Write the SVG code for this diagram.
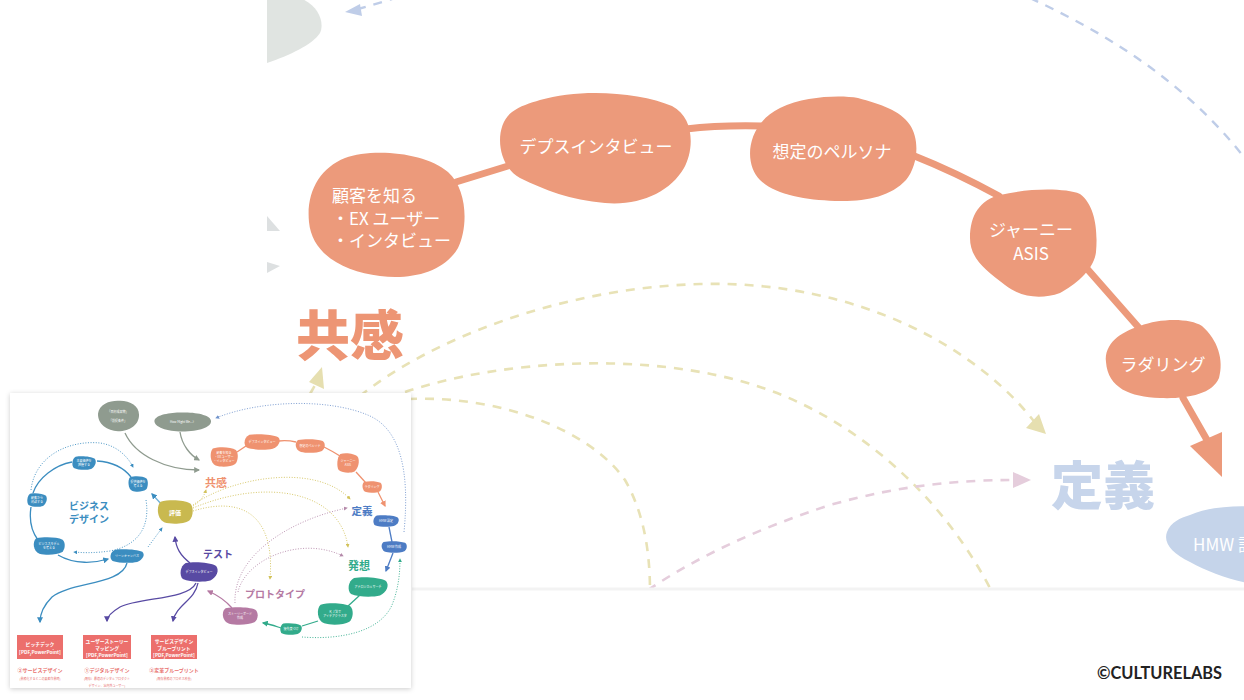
<svg xmlns="http://www.w3.org/2000/svg" width="1244" height="700" viewBox="0 0 1244 700">
<defs>
<style>
.jp{font-family:"Noto Sans CJK JP","Noto Sans",sans-serif}
.nt{font-family:"Noto Sans CJK JP","Noto Sans",sans-serif;fill:#fff;font-size:17px;dominant-baseline:central}
.big{font-family:"Noto Sans CJK JP","Noto Sans",sans-serif;font-weight:900;dominant-baseline:central}
.sal{fill:#ec9a7b}
.sline{fill:none;stroke:#ec9a7b;stroke-width:7;stroke-linecap:round}
.ydash{fill:none;stroke:#e8e2b6;stroke-width:2.6;stroke-dasharray:9 8}
.pdash{fill:none;stroke:#e5cddc;stroke-width:2.6;stroke-dasharray:9 8}
.bdash{fill:none;stroke:#bfcde8;stroke-width:2.4;stroke-dasharray:9 8}
.mt{font-family:"Noto Sans CJK JP","Noto Sans",sans-serif;fill:#fff;font-size:3px;text-anchor:middle;dominant-baseline:central}
.mh{font-family:"Noto Sans CJK JP","Noto Sans",sans-serif;font-weight:700;text-anchor:middle;dominant-baseline:central}
.bx{font-family:"Noto Sans CJK JP","Noto Sans",sans-serif;font-weight:700;fill:#fff;font-size:4.8px;text-anchor:middle;dominant-baseline:central}
.lb{font-family:"Noto Sans CJK JP","Noto Sans",sans-serif;font-weight:700;fill:#e8706e;font-size:5px;text-anchor:middle;dominant-baseline:central}
.sb{font-family:"Noto Sans CJK JP","Noto Sans",sans-serif;fill:#e8706e;font-size:3px;text-anchor:middle;dominant-baseline:central}
.ln{fill:none;stroke-width:1.3}
.dt{fill:none;stroke-width:0.9;stroke-dasharray:1 1.6}
</style>
<clipPath id="mainclip"><rect x="267" y="0" width="977" height="588"/></clipPath>
<filter id="sh" x="-5%" y="-5%" width="110%" height="110%"><feDropShadow dx="0" dy="1" stdDeviation="2.5" flood-color="#000" flood-opacity="0.2"/></filter>
<path id="bA" d="M -0.8,-0.85 C -0.3,-1.05 0.5,-1 0.85,-0.7 C 1.05,-0.4 1.02,0.4 0.8,0.7 C 0.5,1 -0.2,1.05 -0.6,0.85 C -1,0.6 -1.05,-0.5 -0.8,-0.85 Z"/>
<path id="bB" d="M -0.7,-0.9 C -0.2,-1.05 0.6,-0.95 0.9,-0.6 C 1.08,-0.2 0.95,0.5 0.6,0.85 C 0.2,1.05 -0.5,1 -0.85,0.7 C -1.05,0.35 -1,-0.6 -0.7,-0.9 Z"/>
<path id="bC" d="M -0.95,-0.15 C -0.9,-0.8 -0.3,-1 0.1,-0.95 C 0.6,-0.95 1.0,-0.6 1.0,-0.1 C 1.02,0.5 0.6,0.95 0.0,0.95 C -0.5,0.95 -0.98,0.5 -0.95,-0.15 Z"/>
<marker id="mGr" viewBox="0 0 10 10" refX="8" refY="5" markerWidth="6" markerHeight="6" orient="auto" markerUnits="userSpaceOnUse"><path d="M0,0 L10,5 L0,10 Z" fill="#8f9b8f"/></marker>
<marker id="mSa" viewBox="0 0 10 10" refX="8" refY="5" markerWidth="6" markerHeight="6" orient="auto" markerUnits="userSpaceOnUse"><path d="M0,0 L10,5 L0,10 Z" fill="#ef9270"/></marker>
<marker id="mBu" viewBox="0 0 10 10" refX="8" refY="5" markerWidth="6" markerHeight="6" orient="auto" markerUnits="userSpaceOnUse"><path d="M0,0 L10,5 L0,10 Z" fill="#3b8dc0"/></marker>
<marker id="mYe" viewBox="0 0 10 10" refX="8" refY="5" markerWidth="4" markerHeight="4" orient="auto" markerUnits="userSpaceOnUse"><path d="M0,0 L10,5 L0,10 Z" fill="#d2c25a"/></marker>
<marker id="mPu" viewBox="0 0 10 10" refX="8" refY="5" markerWidth="6" markerHeight="6" orient="auto" markerUnits="userSpaceOnUse"><path d="M0,0 L10,5 L0,10 Z" fill="#584aa3"/></marker>
<marker id="mPk" viewBox="0 0 10 10" refX="8" refY="5" markerWidth="6" markerHeight="6" orient="auto" markerUnits="userSpaceOnUse"><path d="M0,0 L10,5 L0,10 Z" fill="#b57aa3"/></marker>
<marker id="mPd" viewBox="0 0 10 10" refX="8" refY="5" markerWidth="4" markerHeight="4" orient="auto" markerUnits="userSpaceOnUse"><path d="M0,0 L10,5 L0,10 Z" fill="#b58aaa"/></marker>
<marker id="mTe" viewBox="0 0 10 10" refX="8" refY="5" markerWidth="6" markerHeight="6" orient="auto" markerUnits="userSpaceOnUse"><path d="M0,0 L10,5 L0,10 Z" fill="#32ab8b"/></marker>
<marker id="mTd" viewBox="0 0 10 10" refX="8" refY="5" markerWidth="4" markerHeight="4" orient="auto" markerUnits="userSpaceOnUse"><path d="M0,0 L10,5 L0,10 Z" fill="#32ab8b"/></marker>
<marker id="mDe" viewBox="0 0 10 10" refX="8" refY="5" markerWidth="6" markerHeight="6" orient="auto" markerUnits="userSpaceOnUse"><path d="M0,0 L10,5 L0,10 Z" fill="#4d7cc4"/></marker>
<marker id="mDd" viewBox="0 0 10 10" refX="8" refY="5" markerWidth="4" markerHeight="4" orient="auto" markerUnits="userSpaceOnUse"><path d="M0,0 L10,5 L0,10 Z" fill="#6f93cc"/></marker>
<marker id="mBd" viewBox="0 0 10 10" refX="8" refY="5" markerWidth="4" markerHeight="4" orient="auto" markerUnits="userSpaceOnUse"><path d="M0,0 L10,5 L0,10 Z" fill="#3b8dc0"/></marker>
</defs>
<rect width="1244" height="700" fill="#fff"/>

<g id="main" clip-path="url(#mainclip)">
<g id="main-connectors">
<path class="bdash" d="M 1030,-2 C 1110,35 1190,85 1250,165"/>
<path class="bdash" d="M 398,-3 Q 380,3 358,9"/>
<polygon points="345,12 360,4 362,16" fill="#bfcde8"/>
<polygon points="267,216 280,231 267,231" fill="#dde0e1"/>
<polygon points="267,262 280,266 267,273" fill="#dde0e1"/>
<path class="ydash" d="M 360,396 C 430,340 560,288 700,284 C 860,280 980,350 1036,424"/>
<polygon points="1046,434 1026,428 1039,414" fill="#e6dfb0"/>
<path class="ydash" d="M 405,392 C 500,360 650,350 760,387 C 860,420 945,500 992,592"/>
<path class="ydash" d="M 408,399 C 500,395 590,430 625,480 C 645,515 650,555 650,592"/>
<path class="ydash" d="M 310,394 L 318,380"/>
<polygon points="322,367 309,382 324,389" fill="#e6dfb0"/>
<path class="pdash" d="M 648,590 C 700,555 760,528 830,505 C 900,485 960,480 1014,480"/>
<polygon points="1031,480 1013,472 1013,488" fill="#e5cddc"/>
<path class="sline" d="M 456,182 L 508,166"/>
<path class="sline" d="M 686,129 Q 720,125 762,126"/>
<path class="sline" d="M 912,155 Q 955,172 999,196"/>
<path class="sline" d="M 1082,263 L 1140,329"/>
<path class="sline" d="M 1183,398 L 1207,440"/>
<polygon points="1190,446 1222,432 1222,477" fill="#ec9a7b"/>
</g>
<g id="grey-blob"><path d="M 267,-2 L 300,-2 C 318,5 325,22 320,33 C 312,45 290,55 267,63 Z" fill="#e0e4e1"/></g>
<g id="node-kokyaku">
<path class="sal" d="M 345,158 C 372,148 425,152 448,172 C 468,190 468,228 458,248 C 444,272 412,280 380,276 C 345,272 312,255 309,222 C 306,192 320,168 345,158 Z"/>
<text class="nt" x="332" y="194">顧客を知る</text>
<text class="nt" x="332" y="217">・EX ユーザー</text>
<text class="nt" x="332" y="239">・インタビュー</text>
</g>
<g id="node-depth">
<path class="sal" d="M 540,100 C 580,88 640,92 672,106 C 695,118 694,150 684,168 C 670,192 640,206 605,203 C 570,200 545,190 520,178 C 496,165 494,125 512,112 C 520,106 530,103 540,100 Z"/>
<text class="nt" x="596" y="145" text-anchor="middle">デプスインタビュー</text>
</g>
<g id="node-persona">
<path class="sal" d="M 780,108 C 805,96 840,95 858,98 C 880,104 900,110 910,125 C 920,140 918,165 906,180 C 890,197 865,202 835,201 C 805,200 775,195 760,180 C 744,165 745,125 780,108 Z"/>
<text class="nt" x="832" y="150" text-anchor="middle">想定のペルソナ</text>
</g>
<g id="node-journey">
<path class="sal" d="M 1000,195 C 1030,188 1065,188 1080,194 C 1095,205 1098,230 1096,252 C 1094,270 1075,285 1060,293 C 1040,300 1020,297 1005,285 C 985,270 970,258 970,238 C 970,215 980,200 1000,195 Z"/>
<text class="nt" x="1031" y="228" text-anchor="middle">ジャーニー</text>
<text class="nt" x="1031" y="252" text-anchor="middle">ASIS</text>
</g>
<g id="node-laddering">
<path class="sal" d="M 1140,326 C 1160,318 1190,318 1202,326 C 1218,340 1224,360 1219,378 C 1212,395 1185,399 1160,398 C 1130,397 1108,388 1106,362 C 1104,344 1120,332 1140,326 Z"/>
<text class="nt" x="1163" y="363" text-anchor="middle">ラダリング</text>
</g>
<g id="node-hmw">
<path d="M 1190,515 C 1210,506 1240,505 1260,507 L 1260,585 C 1235,582 1210,573 1190,562 C 1172,553 1163,543 1167,532 C 1171,522 1180,518 1190,515 Z" fill="#c5d4ea"/>
<text class="nt" x="1193" y="543">HMW 設定</text>
</g>
<g id="label-kyokan"><text class="big" x="296" y="332" font-size="54" fill="#ed9574">共感</text></g>
<g id="label-teigi"><text class="big" x="1051" y="482" font-size="52" fill="#c7d5eb">定義</text></g>
</g>
<line x1="412" y1="589" x2="1244" y2="589" stroke="#f3f3f3" stroke-width="3"/>

<g id="inset">
<rect x="10" y="393" width="401" height="295" fill="#fff" filter="url(#sh)"/>
<g id="inset-connectors">
<path class="ln" stroke="#8f9b8f" d="M 125,433 C 135,455 165,470 199,470" marker-end="url(#mGr)"/>
<path class="ln" stroke="#8f9b8f" d="M 180,432 C 182,445 190,455 199,460" marker-end="url(#mGr)"/>
<path class="dt" stroke="#6f93cc" d="M 404,532 C 410,470 400,430 370,416 C 330,398 260,400 216,418" marker-end="url(#mDd)"/>
<path class="ln" stroke="#ef9270" d="M 237,452 L 246,446"/>
<path class="ln" stroke="#ef9270" d="M 279,441 Q 287,440 296,442"/>
<path class="ln" stroke="#ef9270" d="M 324,447 Q 332,451 340,456"/>
<path class="ln" stroke="#ef9270" d="M 356,472 L 366,483"/>
<path class="ln" stroke="#ef9270" d="M 378,492 L 385,506" marker-end="url(#mSa)"/>
<path class="ln" stroke="#3b8dc0" d="M 33,493 C 38,478 55,465 72,462"/>
<path class="ln" stroke="#3b8dc0" d="M 97,461 C 112,462 124,468 131,477"/>
<path class="ln" stroke="#3b8dc0" d="M 31,507 C 29,520 32,532 38,540"/>
<path class="ln" stroke="#3b8dc0" d="M 58,555 C 75,565 95,563 108,559" marker-end="url(#mBu)"/>
<path class="ln" stroke="#3b8dc0" d="M 127,563 C 122,585 70,582 52,597 C 44,605 40,613 40,622" marker-end="url(#mBu)"/>
<path class="ln" stroke="#6fb0d8" d="M 163,506 L 152,494" marker-end="url(#mBu)"/>
<path class="dt" stroke="#3b8dc0" d="M 31,490 C 35,455 70,440 100,443 C 115,445 127,455 133,467" marker-end="url(#mBd)"/>
<path class="dt" stroke="#3b8dc0" d="M 146,500 C 150,525 140,545 110,551 C 95,553 85,553 74,552" marker-end="url(#mBd)"/>
<path class="dt" stroke="#3b8dc0" d="M 148,547 L 162,528" marker-end="url(#mBd)"/>
<path class="dt" stroke="#d2c25a" d="M 193,506 Q 203,500 206,490" marker-end="url(#mYe)"/>
<path class="dt" stroke="#d2c25a" d="M 193,505 C 230,478 315,462 350,499" marker-end="url(#mYe)"/>
<path class="dt" stroke="#d2c25a" d="M 193,508 C 265,478 340,490 348,547" marker-end="url(#mYe)"/>
<path class="dt" stroke="#d2c25a" d="M 193,511 C 245,495 275,518 270,579" marker-end="url(#mYe)"/>
<path class="ln" stroke="#584aa3" d="M 190,563 C 180,555 176,548 175,537" marker-end="url(#mPu)"/>
<path class="ln" stroke="#584aa3" d="M 196,583 C 188,600 140,597 120,607 C 110,613 107,618 107,621" marker-end="url(#mPu)"/>
<path class="ln" stroke="#584aa3" d="M 198,583 C 195,600 176,605 173,621" marker-end="url(#mPu)"/>
<path class="dt" stroke="#b58aaa" d="M 235,603 C 233,555 290,520 347,508" marker-end="url(#mPd)"/>
<path class="dt" stroke="#b58aaa" d="M 238,592 C 245,560 300,535 343,556" marker-end="url(#mPd)"/>
<path class="ln" stroke="#4d7cc4" d="M 389,527 L 392,542"/>
<path class="ln" stroke="#4d7cc4" d="M 393,553 L 386,571" marker-end="url(#mDe)"/>
<path class="ln" stroke="#32ab8b" d="M 360,595 L 347,607"/>
<path class="ln" stroke="#32ab8b" d="M 318,621 L 302,626"/>
<path class="ln" stroke="#32ab8b" d="M 281,628 C 275,626 270,624 263,623" marker-end="url(#mTe)"/>
<path class="dt" stroke="#32ab8b" d="M 302,637 C 340,640 380,632 392,605 C 398,590 400,575 400,559" marker-end="url(#mTd)"/>
<path class="ln" stroke="#b57aa3" d="M 232,608 C 225,600 215,594 208,591" marker-end="url(#mPk)"/>
</g>
<g id="i-goal"><use href="#bC" transform="translate(118,416) scale(21,16)" fill="#8f9b8f"/><text class="mt" x="118" y="412" font-size="3.5">「目標成果物」</text><text class="mt" x="118" y="421" font-size="3.5">「前提条件」</text></g>
<g id="i-hmwq"><use href="#bC" transform="translate(182,422) scale(29,10)" fill="#8f9b8f"/><text class="mt" x="182" y="422" font-size="3.5">How Might We...?</text></g>
<g id="i-kokyaku"><use href="#bA" transform="translate(224,457) scale(14,10)" fill="#ef9270"/><text class="mt" x="224" y="453">顧客を知る</text><text class="mt" x="224" y="457">・EX ユーザー</text><text class="mt" x="224" y="461">・インタビュー</text></g>
<g id="i-depth"><use href="#bB" transform="translate(262,442) scale(18,8)" fill="#ef9270"/><text class="mt" x="262" y="442">デプスインタビュー</text></g>
<g id="i-persona"><use href="#bA" transform="translate(310,446) scale(15,7)" fill="#ef9270"/><text class="mt" x="310" y="446">想定のペルソナ</text></g>
<g id="i-journey"><use href="#bB" transform="translate(348,463) scale(11,10)" fill="#ef9270"/><text class="mt" x="348" y="461">ジャーニー</text><text class="mt" x="348" y="465">ASIS</text></g>
<g id="i-ladder"><use href="#bA" transform="translate(372,487) scale(10,6)" fill="#ef9270"/><text class="mt" x="372" y="487">ラダリング</text></g>
<g id="i-kyokan"><text class="mh" x="216" y="482" font-size="11" fill="#ef9270">共感</text></g>
<g id="i-teigi"><text class="mh" x="362" y="510" font-size="10.5" fill="#4d7cc4">定義</text></g>
<g id="i-hmw1"><use href="#bB" transform="translate(386,521) scale(13,6)" fill="#4d7cc4"/><text class="mt" x="386" y="521">HMW 設定</text></g>
<g id="i-hmw2"><use href="#bA" transform="translate(394,547) scale(13,6)" fill="#4d7cc4"/><text class="mt" x="394" y="547">HMW 作成</text></g>
<g id="i-hasso"><text class="mh" x="359" y="565" font-size="11" fill="#32ab8b">発想</text></g>
<g id="i-analog"><use href="#bB" transform="translate(368,587) scale(20,10)" fill="#32ab8b"/><text class="mt" x="368" y="587">アナロジカルサーチ</text></g>
<g id="i-kj"><use href="#bA" transform="translate(335,614) scale(18,11)" fill="#32ab8b"/><text class="mt" x="335" y="612">ＫＪ法で</text><text class="mt" x="335" y="616">アイデアクラスタ</text></g>
<g id="i-priority"><use href="#bB" transform="translate(291,629) scale(11,6)" fill="#32ab8b"/><text class="mt" x="291" y="629">優先度づけ</text></g>
<g id="i-proto"><text class="mh" x="275" y="593" font-size="10" fill="#b57aa3">プロトタイプ</text></g>
<g id="i-story"><use href="#bA" transform="translate(240,616) scale(18,9)" fill="#b57aa3"/><text class="mt" x="240" y="614">ストーリーボード</text><text class="mt" x="240" y="618">作成</text></g>
<g id="i-test"><text class="mh" x="218" y="553" font-size="10" fill="#584aa3">テスト</text></g>
<g id="i-testdepth"><use href="#bB" transform="translate(199,572) scale(19,10)" fill="#584aa3"/><text class="mt" x="199" y="572">デプスインタビュー</text></g>
<g id="i-hyoka"><use href="#bA" transform="translate(175,512) scale(18,12)" fill="#c9b94f"/><text class="mh" x="175" y="512" font-size="6" fill="#fff">評価</text></g>
<g id="i-bd"><text class="mh" x="89" y="505" font-size="10" fill="#3b8dc0">ビジネス</text><text class="mh" x="89" y="518" font-size="10" fill="#3b8dc0">デザイン</text></g>
<g id="i-bA"><use href="#bB" transform="translate(84,463) scale(12,7)" fill="#3b8dc0"/><text class="mt" x="84" y="461">主要価値を</text><text class="mt" x="84" y="465">把握する</text></g>
<g id="i-bB"><use href="#bA" transform="translate(138,484) scale(10,8)" fill="#3b8dc0"/><text class="mt" x="138" y="482">提供価値を</text><text class="mt" x="138" y="486">考える</text></g>
<g id="i-bC"><use href="#bB" transform="translate(37,500) scale(10,7)" fill="#3b8dc0"/><text class="mt" x="37" y="498">顧客から</text><text class="mt" x="37" y="502">対話する</text></g>
<g id="i-bD"><use href="#bA" transform="translate(49,546) scale(16,9)" fill="#3b8dc0"/><text class="mt" x="49" y="544">ビジネスモデル</text><text class="mt" x="49" y="548">を考える</text></g>
<g id="i-bE"><use href="#bB" transform="translate(127,556) scale(17,7)" fill="#3b8dc0"/><text class="mt" x="127" y="556">リーンキャンバス</text></g>
<g id="i-box1"><rect x="17" y="635" width="46" height="24" fill="#ec6f6c"/><text class="bx" x="40" y="643">ピッチデック</text><text class="bx" x="40" y="651">[PDF,PowerPoint]</text></g>
<g id="i-box2"><rect x="83" y="635" width="48" height="24" fill="#ec6f6c"/><text class="bx" x="107" y="640">ユーザーストーリー</text><text class="bx" x="107" y="647">マッピング</text><text class="bx" x="107" y="654">[PDF,PowerPoint]</text></g>
<g id="i-box3"><rect x="151" y="635" width="46" height="24" fill="#ec6f6c"/><text class="bx" x="174" y="640">サービスデザイン</text><text class="bx" x="174" y="647">ブループリント</text><text class="bx" x="174" y="654">[PDF,PowerPoint]</text></g>
<g id="i-labels">
<text class="lb" x="40" y="669">②サービスデザイン</text>
<text class="sb" x="40" y="679">(業務化するとこの要素作業時)</text>
<text class="lb" x="107" y="669">①デジタルデザイン</text>
<text class="sb" x="107" y="679">(既存）最適のデジタルプロダクト</text>
<text class="sb" x="107" y="686">デザイン、社内外ユーザー)</text>
<text class="lb" x="174" y="669">③変革ブループリント</text>
<text class="sb" x="174" y="679">(既存業務のプロセス改善)</text>
</g>
</g>

<g id="copyright"><text x="1097" y="679" font-family="Lato, 'Noto Sans', sans-serif" font-weight="700" font-size="16.5" fill="#222" textLength="125" lengthAdjust="spacingAndGlyphs">©CULTURELABS</text></g>
</svg>
